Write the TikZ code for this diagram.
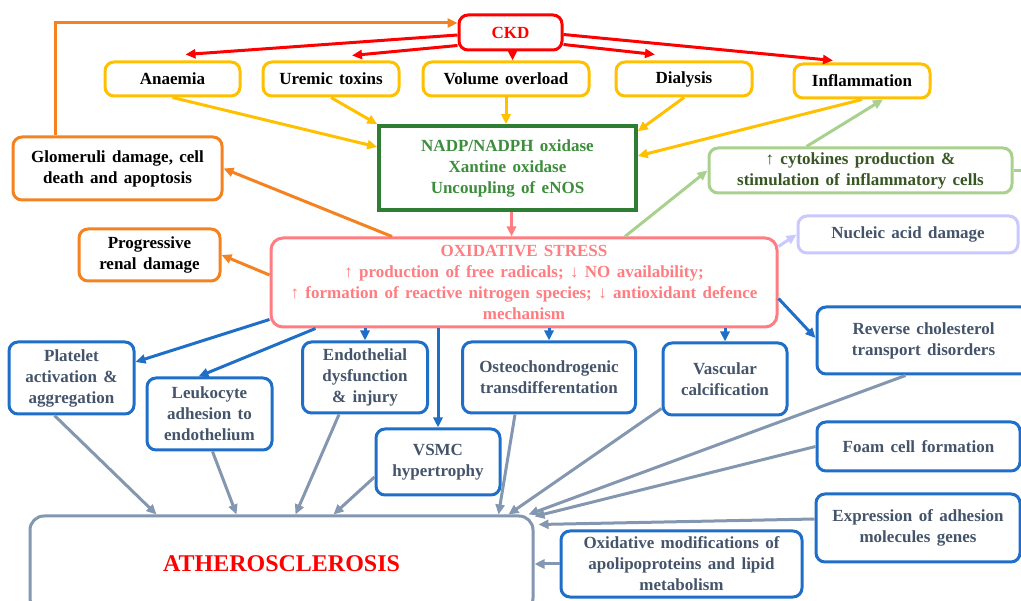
\documentclass[tikz,border=0pt]{standalone}
\usepackage{fontspec}
\setmainfont{Liberation Serif}[WordSpace=1.5]
\usepackage{xcolor}
\definecolor{ckdred}{HTML}{FF0000}
\definecolor{causeyellow}{HTML}{FFC000}
\definecolor{renalorange}{HTML}{F58220}
\definecolor{enzgreen}{HTML}{2E7D32}
\definecolor{enztext}{HTML}{3C8D3C}
\definecolor{oxpink}{HTML}{FF7C80}
\definecolor{inflgreen}{HTML}{A9D18E}
\definecolor{infltext}{HTML}{375623}
\definecolor{dnalilac}{HTML}{C9C9FF}
\definecolor{vascblue}{HTML}{1F6FC8}
\definecolor{slatetext}{HTML}{44546A}
\definecolor{athgrey}{HTML}{8497B0}
\usetikzlibrary{arrows.meta,positioning,calc}

\begin{document}
\begin{tikzpicture}[x=1pt,y=-1pt,
  box/.style={draw, rounded corners=9pt, line width=3pt, align=center, inner sep=1pt,
    font=\bfseries\fontsize{17}{21}\selectfont},
  ybox/.style={box, draw=causeyellow, text=black},
  obox/.style={box, draw=renalorange, text=black},
  bbox/.style={box, draw=vascblue, text=slatetext},
  arr/.style={-{Triangle[length=10pt,width=9pt]}, line width=3pt}]
  \path[use as bounding box] (0,0) rectangle (1021,601);
  \clip (0,0) rectangle (1021,601);
  % Causes
  \node[box, draw=ckdred, text=ckdred, minimum width=103, minimum height=35] (ckd) at (510.5,32.5) {CKD};
  \node[ybox, minimum width=135, minimum height=34] (anaemia) at (172.5,79) {Anaemia};
  \node[ybox, minimum width=136, minimum height=34] (uremic) at (331,79) {Uremic toxins};
  \node[ybox, minimum width=166, minimum height=34] (volume) at (506,79) {Volume overload};
  \node[ybox, minimum width=136, minimum height=34] (dialysis) at (684,79) {Dialysis};
  \node[ybox, minimum width=136, minimum height=34] (infl) at (862,81) {Inflammation};
  \node[box, rounded corners=0pt, line width=3.5pt, draw=enzgreen, text=enztext,
    minimum width=257, minimum height=84] (nadp) at (507.5,168)
    {NADP/NADPH oxidase\\Xantine oxidase\\Uncoupling of eNOS};
  % Oxidative stress and its effects
  \node[box, rounded corners=12pt, draw=oxpink, text=oxpink, minimum width=506, minimum height=89] (ox) at (524,282.5)
    {OXIDATIVE STRESS\\↑ production of free radicals; ↓ NO availability;\\
     ↑ formation of reactive nitrogen species; ↓ antioxidant defence\\mechanism};
  \node[obox, minimum width=209, minimum height=63] (glom) at (117.5,168.5) {Glomeruli damage, cell\\death and apoptosis};
  \node[obox, minimum width=141, minimum height=52] (prog) at (149.5,255) {Progressive\\renal damage};
  \node[box, draw=inflgreen, text=infltext, minimum width=303, minimum height=45] (cyto) at (860.5,170.5)
    {↑ cytokines production \&\\stimulation of inflammatory cells};
  \coordinate (offr) at (1030,170.5);
  \node[box, draw=dnalilac, text=slatetext, minimum width=220, minimum height=37] (nucl) at (908,234.5) {Nucleic acid damage};
  \node[bbox, minimum width=213, minimum height=67] (rev) at (923.5,340.5) {Reverse cholesterol\\transport disorders};
  \node[bbox, minimum width=125, minimum height=72] (plat) at (71.5,378) {Platelet\\activation \&\\aggregation};
  \node[bbox, minimum width=125, minimum height=72] (leuk) at (209.5,414) {Leukocyte\\adhesion to\\endothelium};
  \node[bbox, minimum width=125, minimum height=71] (endo) at (365,377.5) {Endothelial\\dysfunction\\\& injury};
  \node[bbox, minimum width=124, minimum height=66] (vsmc) at (438,462) {VSMC\\hypertrophy};
  \node[bbox, minimum width=173, minimum height=71] (osteo) at (549,377.5) {Osteochondrogenic\\transdifferentation};
  \node[bbox, minimum width=124, minimum height=72] (vasc) at (725,379) {Vascular\\calcification};
  \node[bbox, minimum width=203, minimum height=49] (foam) at (918.5,446.5) {Foam cell formation};
  \node[bbox, minimum width=204, minimum height=68] (expr) at (918,528) {Expression of adhesion\\molecules genes};
  \node[bbox, minimum width=241, minimum height=66] (oxmod) at (681.5,564)
    {Oxidative modifications of\\apolipoproteins and lipid\\metabolism};
  \node[box, rounded corners=14pt, draw=athgrey, text=ckdred, font=\bfseries\fontsize{24}{28}\selectfont,
    minimum width=503, minimum height=96] (ath) at (281.5,564) {ATHEROSCLEROSIS};
  % CKD arrows
  \draw[arr, ckdred] ([yshift=-2.5]ckd.west) -- ([xshift=13,yshift=6]anaemia.north);
  \draw[arr, ckdred] ([yshift=-13]ckd.west) -- ([xshift=21,yshift=5]uremic.north);
  \draw[arr, ckdred] ([xshift=2]ckd.south) -- ([xshift=2]ckd.south |- volume.north);
  \draw[arr, ckdred] ([yshift=-12]ckd.east) -- ([xshift=-29,yshift=6]dialysis.north);
  \draw[arr, ckdred] ([yshift=-2]ckd.east) -- ([xshift=-29,yshift=2]infl.north);
  % Into the enzymes
  \draw[arr, causeyellow] (anaemia.south) -- ([yshift=21]nadp.west);
  \draw[arr, causeyellow] (uremic.south) -- (nadp.north west);
  \draw[arr, causeyellow] (volume.south) -- (volume.south |- nadp.north);
  \draw[arr, causeyellow] (dialysis.south) -- ([yshift=-7]nadp.north east);
  \draw[arr, causeyellow] (infl.south) -- ([yshift=12]nadp.east);
  \draw[arr, oxpink] ([xshift=4]nadp.south) -- ([xshift=4]nadp.south |- ox.north);
  % Feedback loops
  \draw[arr, inflgreen] ([xshift=101]ox.north) -- (cyto.west);
  \draw[arr, inflgreen] ([xshift=-54]cyto.north) -- ([xshift=21]infl.south);
  \draw[line width=3pt, inflgreen] (cyto.east) -- (offr);
  \draw[arr, dnalilac] ([yshift=-10]ox.north east) -- (nucl.west);
  \draw[arr, renalorange] ([xshift=-132]ox.north) -- (glom.east);
  \draw[arr, renalorange] ([yshift=7.5]ox.west) -- (prog.east);
  \draw[arr, renalorange] ([xshift=-62.5]glom.north) |- ([yshift=9.5]ckd.west);
  % Vascular effects
  \draw[arr, vascblue] ([yshift=9]ox.south west) -- ([yshift=16]plat.east);
  \draw[arr, vascblue] ([xshift=46]ox.south west) -- ([xshift=-11]leuk.north);
  \draw[arr, vascblue] (ox.south -| endo.north) -- (endo.north);
  \draw[arr, vascblue] (ox.south -| vsmc.north) -- (vsmc.north);
  \draw[arr, vascblue] (ox.south -| osteo.north) -- (osteo.north);
  \draw[arr, vascblue] (ox.south -| vasc.north) -- (vasc.north);
  \draw[arr, vascblue] ([yshift=-16]ox.east) -- ([yshift=2.5]rev.west);
  % Into atherosclerosis
  \draw[arr, athgrey] ([xshift=-17]plat.south) -- ([xshift=128]ath.north west);
  \draw[arr, athgrey] ([xshift=3]leuk.south) -- ([xshift=208]ath.north west);
  \draw[arr, athgrey] ([xshift=-26]endo.south) -- ([xshift=267]ath.north west);
  \draw[arr, athgrey] ([yshift=-15]vsmc.west) -- ([xshift=305]ath.north west);
  \draw[arr, athgrey] ([xshift=-34]osteo.south) -- ([xshift=470]ath.north west);
  \draw[arr, athgrey] ([yshift=8]vasc.south west) -- ([xshift=480]ath.north west);
  \draw[arr, athgrey] ([xshift=-18]rev.south) -- ([xshift=-6]ath.north east);
  \draw[arr, athgrey] (foam.west) -- ([yshift=-2]ath.north east);
  \draw[arr, athgrey] ([yshift=9]expr.west) -- ([xshift=4,yshift=-10]ath.north east);
  \draw[arr, athgrey] (oxmod.west) -- (oxmod.west -| ath.east);
\end{tikzpicture}
\end{document}
